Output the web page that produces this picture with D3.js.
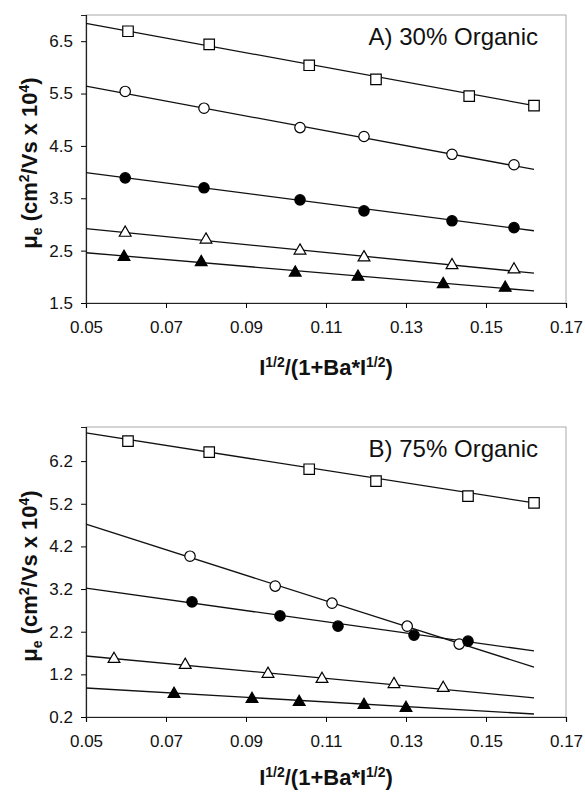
<html>
<script src="https://d3js.org/d3.v7.min.js"></script>
<style>
body { margin:0; background:#fff; }
text { font-family: "Liberation Sans", Arial, sans-serif; }
</style>
<body>
<svg width="585" height="792"></svg>
<script>
// ---- data ----
var xTicks = [0.05, 0.07, 0.09, 0.11, 0.13, 0.15, 0.17];
var yTicksA = [1.5, 2.5, 3.5, 4.5, 5.5, 6.5];
var yTicksB = [0.2, 1.2, 2.2, 3.2, 4.2, 5.2, 6.2];
var symbols = ["square", "circle", "circleFilled", "triangle", "triangleFilled"];

// panel A (30% organic)
var aSquareX = [0.0605, 0.0808, 0.1058, 0.1225, 0.1458, 0.1620];
var aSquareY = [6.69, 6.44, 6.04, 5.77, 5.45, 5.27];
var aCircleX = [0.0598, 0.0795, 0.1035, 0.1195, 0.1415, 0.1570];
var aCircleY = [5.54, 5.22, 4.85, 4.68, 4.34, 4.14];
var aDotX = [0.0598, 0.0795, 0.1035, 0.1195, 0.1415, 0.1570];
var aDotY = [3.89, 3.70, 3.47, 3.26, 3.07, 2.94];
var aTriX = [0.0598, 0.0800, 0.1035, 0.1195, 0.1415, 0.1570];
var aTriY = [2.84, 2.71, 2.50, 2.37, 2.22, 2.14];
var aTriFX = [0.0595, 0.0788, 0.1023, 0.1180, 0.1393, 0.1548];
var aTriFY = [2.38, 2.28, 2.08, 2.00, 1.86, 1.79];
// fitted lines: value at x=0.05 and at x=0.162
var aFitStart = [6.84, 5.64, 3.99, 2.92, 2.46];
var aFitEnd = [5.27, 4.05, 2.88, 2.07, 1.73];

// panel B (75% organic)
var bSquareX = [0.0605, 0.0808, 0.1058, 0.1225, 0.1455, 0.1620];
var bSquareY = [6.67, 6.41, 6.01, 5.73, 5.38, 5.22];
var bCircleX = [0.0760, 0.0973, 0.1115, 0.1303, 0.1433];
var bCircleY = [3.97, 3.27, 2.87, 2.33, 1.91];
var bDotX = [0.0765, 0.0985, 0.1130, 0.1320, 0.1455];
var bDotY = [2.90, 2.57, 2.33, 2.12, 1.98];
var bTriX = [0.0570, 0.0748, 0.0955, 0.1090, 0.1270, 0.1393];
var bTriY = [1.56, 1.42, 1.21, 1.09, 0.97, 0.88];
var bTriFX = [0.0720, 0.0915, 0.1033, 0.1195, 0.1300];
var bTriFY = [0.74, 0.62, 0.55, 0.48, 0.41];
var bFitStart = [6.86, 4.72, 3.22, 1.63, 0.88];
var bFitEnd = [5.22, 1.37, 1.75, 0.65, 0.27];

var fitX = [0.05, 0.162];

var svg = d3.select("svg");

function drawPanel(cfg) {
	var x = d3.scaleLinear().domain([0.05, 0.17]).range([86, 566]);
	var y = d3.scaleLinear().domain(cfg.yDomain).range([cfg.bottom, cfg.top]);
	var g = svg.append("g");

	// frame
	g.append("rect")
		.attr("x", 86).attr("y", cfg.top)
		.attr("width", 480).attr("height", cfg.bottom - cfg.top)
		.attr("fill", "none").attr("stroke", "#aaa").attr("stroke-width", 1);

	var xAxis = g.append("g")
		.attr("transform", "translate(0," + cfg.bottom + ")")
		.call(d3.axisBottom(x).tickValues(xTicks).tickFormat(d3.format(".2f")).tickSizeOuter(0).tickSize(5).tickPadding(13));
	xAxis.selectAll("text").style("font-size", "17px").attr("fill", "#111");
	var yAxis = g.append("g")
		.attr("transform", "translate(86,0)")
		.call(d3.axisLeft(y).tickValues(cfg.yTicks).tickFormat(d3.format(".1f")).tickSizeOuter(0).tickSize(5).tickPadding(8));
	yAxis.selectAll("text").style("font-size", "17px").attr("fill", "#111");
	g.selectAll(".domain").attr("stroke", "#222").attr("stroke-width", 1.2);

	// fitted lines
	var line = d3.line().x(d => x(d[0])).y(d => y(d[1]));
	cfg.fitStart.forEach(function(v, i) {
		g.append("path")
			.attr("d", line([[fitX[0], v], [fitX[1], cfg.fitEnd[i]]]))
			.attr("fill", "none").attr("stroke", "#111").attr("stroke-width", 1.3);
	});

	// markers
	cfg.series.forEach(function(s, i) {
		var kind = symbols[i];
		var pts = s[0].map((xv, j) => [xv, s[1][j]]);
		var shape = kind.startsWith("square") ? d3.symbolSquare : kind.startsWith("circle") ? d3.symbolCircle : d3.symbolTriangle;
		var size = kind.startsWith("square") ? 110 : kind.startsWith("circle") ? 85 : 60;
		var filled = kind.endsWith("Filled");
		g.selectAll(".m" + i).data(pts).enter().append("path")
			.attr("transform", d => "translate(" + x(d[0]) + "," + y(d[1]) + ")")
			.attr("d", d3.symbol().type(shape).size(size))
			.attr("fill", filled ? "#000" : "#fff")
			.attr("stroke", "#000").attr("stroke-width", 1.2);
	});

	// panel label
	g.append("text")
		.attr("x", 538).attr("y", cfg.top + 30)
		.attr("text-anchor", "end")
		.style("font-size", "24px").attr("fill", "#111")
		.text(cfg.label);

	// y title
	var yt = g.append("text")
		.attr("transform", "translate(37," + ((cfg.top + cfg.bottom) / 2 + 4) + ") rotate(-90)")
		.attr("text-anchor", "middle")
		.style("font-size", "22px").style("font-weight", "bold").attr("fill", "#111");
	yt.append("tspan").text("\u03bc");
	yt.append("tspan").attr("dy", 5).style("font-size", "14px").text("e");
	yt.append("tspan").attr("dy", -5).text(" (cm");
	yt.append("tspan").attr("dy", -8).style("font-size", "14px").text("2");
	yt.append("tspan").attr("dy", 8).text("/Vs x 10");
	yt.append("tspan").attr("dy", -8).style("font-size", "14px").text("4");
	yt.append("tspan").attr("dy", 8).text(")");

	// x title
	var xt = g.append("text")
		.attr("x", 326).attr("y", cfg.bottom + cfg.titleGap)
		.attr("text-anchor", "middle")
		.style("font-size", "22px").style("font-weight", "bold").attr("fill", "#111");
	xt.append("tspan").text("I");
	xt.append("tspan").attr("dy", -8).style("font-size", "14px").text("1/2");
	xt.append("tspan").attr("dy", 8).text("/(1+Ba*I");
	xt.append("tspan").attr("dy", -8).style("font-size", "14px").text("1/2");
	xt.append("tspan").attr("dy", 8).text(")");
}

drawPanel({
	top: 15, bottom: 303, yDomain: [1.5, 7.0], yTicks: yTicksA, titleGap: 72,
	label: "A) 30% Organic",
	fitStart: aFitStart, fitEnd: aFitEnd,
	series: [[aSquareX, aSquareY], [aCircleX, aCircleY], [aDotX, aDotY], [aTriX, aTriY], [aTriFX, aTriFY]]
});
drawPanel({
	top: 427, bottom: 717, yDomain: [0.2, 7.0], yTicks: yTicksB, titleGap: 68,
	label: "B) 75% Organic",
	fitStart: bFitStart, fitEnd: bFitEnd,
	series: [[bSquareX, bSquareY], [bCircleX, bCircleY], [bDotX, bDotY], [bTriX, bTriY], [bTriFX, bTriFY]]
});
</script>
</body>
</html>
